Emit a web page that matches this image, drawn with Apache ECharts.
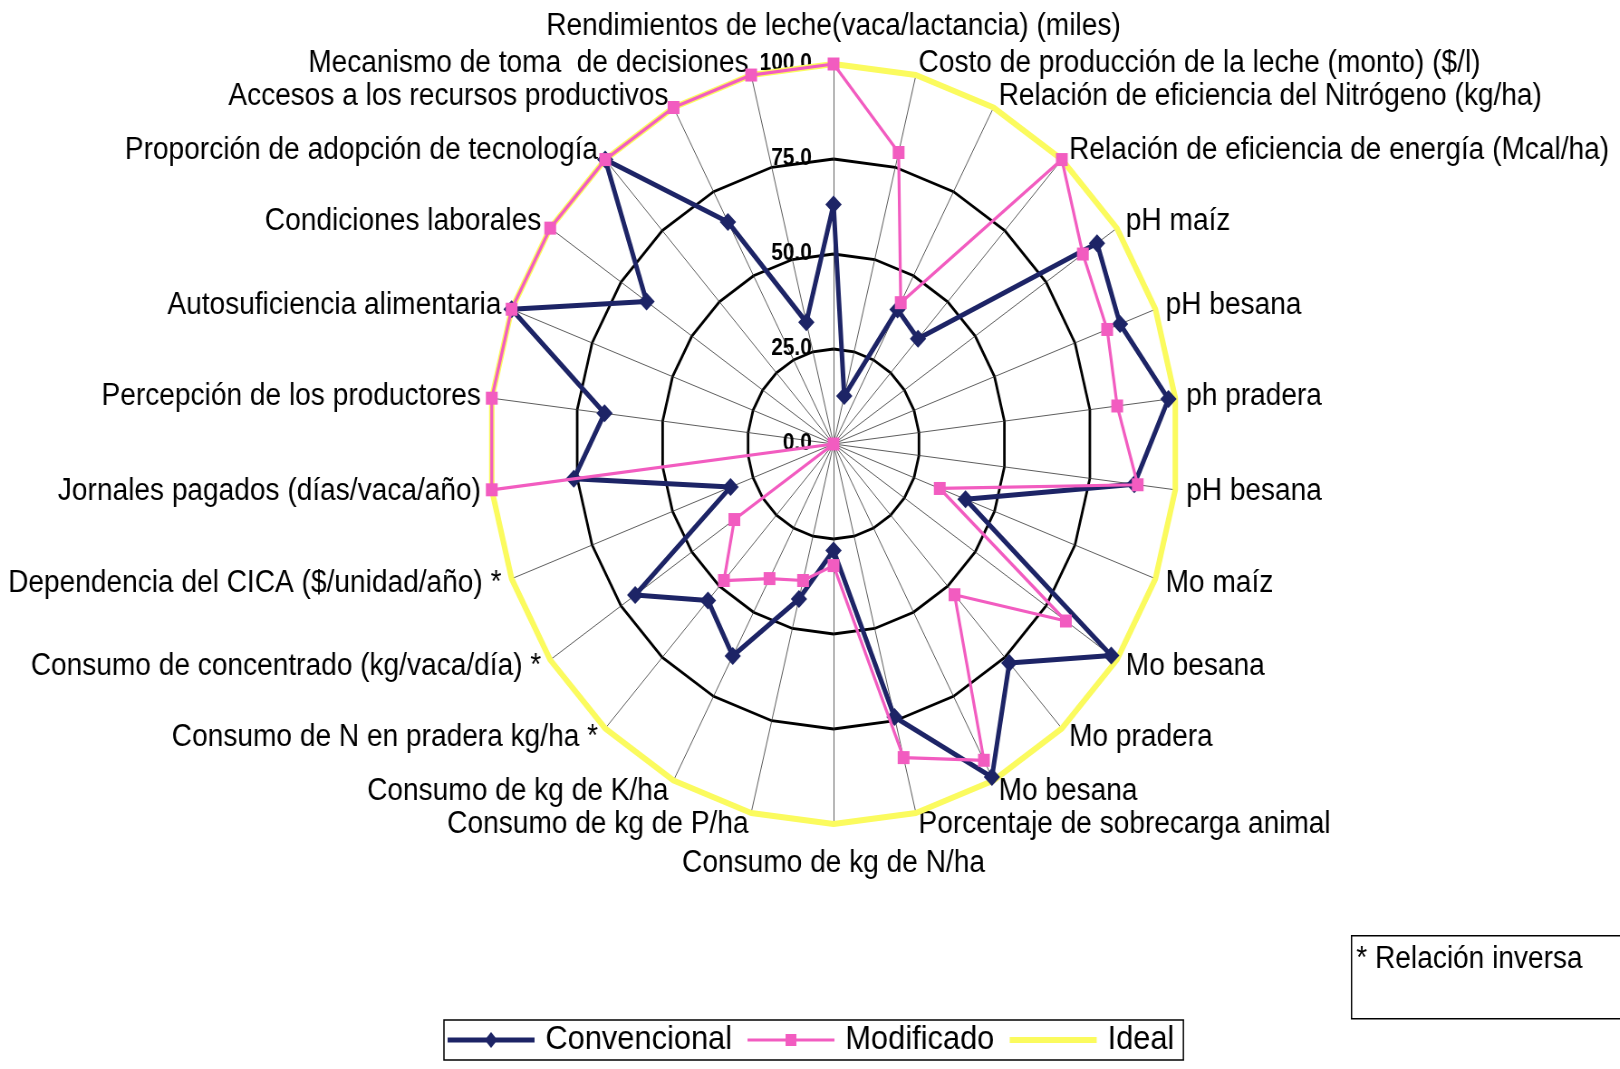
<!DOCTYPE html>
<html>
<head>
<meta charset="utf-8">
<title>Radar sustentabilidad</title>
<script src="https://cdn.jsdelivr.net/npm/echarts@6/dist/echarts.min.js"></script>
<style>
  html, body { margin: 0; padding: 0; background: #fff; overflow: hidden; }
  #wrap { width: 1620px; height: 1069px; overflow: hidden; }
  /* la figura original está comprimida en horizontal */
  #chart { width: 1788px; height: 1069px; transform: scaleX(0.906); transform-origin: 0 0; }
</style>
</head>
<body>
<div id="wrap"><div id="chart"></div></div>
<script>
// categorias en sentido horario desde arriba
var categories = [
  "Rendimientos de leche(vaca/lactancia) (miles)",
  "Costo de producción de la leche (monto) ($/l)",
  "Relación de eficiencia del Nitrógeno (kg/ha)",
  "Relación de eficiencia de energía (Mcal/ha)",
  "pH maíz",
  "pH besana",
  "ph pradera",
  "pH besana",
  "Mo maíz",
  "Mo besana",
  "Mo pradera",
  "Mo besana",
  "Porcentaje de sobrecarga animal",
  "Consumo de kg de N/ha",
  "Consumo de kg de P/ha",
  "Consumo de kg de K/ha",
  "Consumo de N en pradera kg/ha *",
  "Consumo de concentrado (kg/vaca/día) *",
  "Dependencia del CICA ($/unidad/año) *",
  "Jornales pagados (días/vaca/año)",
  "Percepción de los productores",
  "Autosuficiencia alimentaria",
  "Condiciones laborales",
  "Proporción de adopción de tecnología",
  "Accesos a los recursos productivos",
  "Mecanismo de toma  de decisiones"
];

var convencional = [63, 13, 40, 37, 93, 89, 98, 88, 41, 98, 77, 99, 74, 28, 42, 63, 55, 70, 32, 76, 67, 100, 66, 100, 66, 33];
var modificado   = [100, 79, 42, 100, 88, 85, 83, 89, 33, 82, 53, 94, 85, 32, 37, 40, 48, 35, 0, 100, 100, 100, 100, 100, 100, 100];
var ideal        = [100, 100, 100, 100, 100, 100, 100, 100, 100, 100, 100, 100, 100, 100, 100, 100, 100, 100, 100, 100, 100, 100, 100, 100, 100, 100];

var FONT = "Liberation Sans";
var NAVY = "#1d2466";
var PINK = "#f25cc0";
var YELLOW = "#fbfb5e";

// echarts coloca los ejes en sentido antihorario, excel en horario
function horario(a) {
  return [a[0]].concat(a.slice(1).reverse());
}

var indicator = horario(categories).map(function (c, i) {
  var ind = { name: c, min: 0, max: 100 };
  if (i === 0) {
    ind.nameGap = 22;
    ind.axisLabel = {
      show: true,
      margin: 24,
      color: "#000",
      fontFamily: FONT,
      fontWeight: "bold",
      fontSize: 23,
      formatter: function (v) { return v.toFixed(1); }
    };
  }
  if (i === 13) {
    // eje de abajo: "Consumo de kg de N/ha"
    ind.nameGap = 24;
  }
  return ind;
});

var chart = echarts.init(document.getElementById("chart"));

var option = {
  backgroundColor: "#fff",
  animation: false,
  radar: {
    center: [920, 444],
    radius: 380,
    startAngle: 90,
    splitNumber: 4,
    shape: "polygon",
    axisNameGap: 12,
    axisName: { color: "#000", fontFamily: FONT, fontSize: 31 },
    indicator: indicator,
    splitLine: { lineStyle: { color: "#000", width: 2.8 } },
    splitArea: { show: false },
    axisLine: { lineStyle: { color: "#333", width: 0.8 } },
    axisTick: { show: false },
    axisLabel: { show: false }
  },
  legend: {
    left: 490,
    top: 1020,
    orient: "horizontal",
    backgroundColor: "#fff",
    borderColor: "#000",
    borderWidth: 1.5,
    borderRadius: 0,
    padding: [3, 10, 3, 4],
    itemWidth: 96,
    itemHeight: 16,
    itemGap: 17,
    textStyle: { color: "#000", fontFamily: FONT, fontSize: 34, padding: [0, 0, 0, 7] },
    data: [
      { name: "Convencional", icon: "path://M0,5.5L96,5.5L96,10.5L0,10.5Z M48,0L55,8L48,16L41,8Z" },
      { name: "Modificado", icon: "path://M0,6.5L96,6.5L96,9.5L0,9.5Z M42,2L54,2L54,14L42,14Z" },
      { name: "Ideal", icon: "path://M0,5L96,5L96,11L0,11Z" }
    ]
  },
  graphic: [
    {
      type: "rect",
      left: 1491,
      top: 935,
      shape: { x: 0, y: 0, width: 320, height: 83 },
      style: { fill: "#fff", stroke: "#000", lineWidth: 1.5 }
    },
    {
      type: "text",
      left: 1497,
      top: 944,
      style: { text: "* Relación inversa", fill: "#000", font: "31px 'Liberation Sans'" }
    }
  ],
  series: [
    {
      name: "Ideal",
      type: "radar",
      z: 2,
      symbol: "none",
      lineStyle: { color: YELLOW, width: 6 },
      itemStyle: { color: YELLOW },
      data: [{ value: horario(ideal), name: "Ideal" }]
    },
    {
      name: "Convencional",
      type: "radar",
      z: 3,
      symbol: "diamond",
      symbolSize: 18,
      lineStyle: { color: NAVY, width: 5 },
      itemStyle: { color: NAVY },
      data: [{ value: horario(convencional), name: "Convencional" }]
    },
    {
      name: "Modificado",
      type: "radar",
      z: 4,
      symbol: "rect",
      symbolSize: 13,
      lineStyle: { color: PINK, width: 3.2 },
      itemStyle: { color: PINK },
      data: [{ value: horario(modificado), name: "Modificado" }]
    }
  ]
};

chart.setOption(option);
</script>
</body>
</html>
